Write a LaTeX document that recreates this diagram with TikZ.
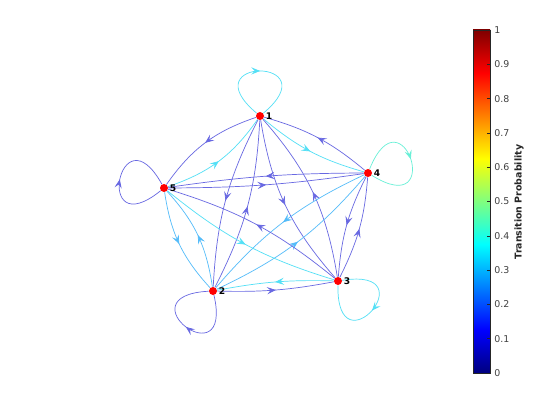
\documentclass[tikz,border=0pt]{standalone}
\usepackage{fontspec}
\setmainfont{DejaVu Sans}
\usetikzlibrary{arrows.meta,decorations.markings,backgrounds}

\definecolor{pblue}{RGB}{104,104,226}
\definecolor{pcyan}{RGB}{84,224,246}
\definecolor{plight}{RGB}{84,188,250}
\definecolor{paqua}{RGB}{104,240,215}
\definecolor{jetA}{rgb}{0,0,0.5}
\definecolor{jetB}{rgb}{0,0,1}
\definecolor{jetC}{rgb}{0,1,1}
\definecolor{jetD}{rgb}{1,1,0}
\definecolor{jetE}{rgb}{1,0,0}
\definecolor{jetF}{rgb}{0.5,0,0}

\begin{document}
\begin{tikzpicture}[
    x=0.025cm, y=0.025cm,
    state/.style={circle, fill=red, inner sep=0pt, minimum size=0.2cm},
    lbl/.style={font=\fontsize{6.5}{7}\selectfont\bfseries, inner sep=1pt},
    trans/.style={line width=0.5pt, postaction=decorate,
        decoration={markings, mark=at position 0.5 with {\arrow{Stealth[length=2.2mm, width=1.8mm, inset=0.9mm]}}}},
    ticklbl/.style={anchor=west, inner sep=0pt, text=black!75, font=\fontsize{6.7}{8}\selectfont}
]
\useasboundingbox (0,0) rectangle (560,420);

% states
\node[state, label={[lbl]right:1}] (n1) at (260,304) {};
\node[state, label={[lbl]right:2}] (n2) at (213,129) {};
\node[state, label={[lbl]right:3}] (n3) at (338,139) {};
\node[state, label={[lbl]right:4}] (n4) at (368,247) {};
\node[state, label={[lbl]right:5}] (n5) at (164,232) {};

\begin{scope}[on background layer]
\fill[white] (0,0) rectangle (560,420);
% transitions between states
\foreach \a/\b/\c/\k in {1/5/pblue/18, 5/1/pcyan/18, 1/4/pcyan/12, 4/1/pblue/12,
    4/5/pblue/4, 5/4/pblue/4, 1/2/pblue/12, 2/1/pblue/12, 1/3/pblue/16, 3/1/pblue/16,
    2/5/plight/17, 5/2/plight/17, 2/4/plight/12, 4/2/plight/12, 3/5/pblue/11,
    5/3/pcyan/11, 3/4/pblue/11, 4/3/pblue/11, 2/3/pblue/6, 3/2/pcyan/6}
    \draw[trans, \c] (n\a) to[bend right=\k] (n\b);

% self loops
\foreach \a/\ang/\c in {1/90/pcyan, 2/-127/pblue, 3/-41/pcyan, 4/18/paqua, 5/169/pblue}
    \draw[trans, \c] (n\a) .. controls +({\ang+50}:92) and +({\ang-50}:92) .. (n\a);
\end{scope}

% colorbar
\foreach \lo/\hi/\ca/\cb in {0/0.125/jetA/jetB, 0.125/0.375/jetB/jetC,
    0.375/0.625/jetC/jetD, 0.625/0.875/jetD/jetE, 0.875/1/jetE/jetF}
    \shade[bottom color=\ca, top color=\cb] (473,{47+\lo*343}) rectangle (490,{47+\hi*343});
\draw[black!85, line width=0.5pt] (473,47) rectangle (490,390);
\foreach \i/\t in {0/0, 1/0.1, 2/0.2, 3/0.3, 4/0.4, 5/0.5, 6/0.6, 7/0.7, 8/0.8, 9/0.9, 10/1} {
    \draw[black!85, line width=0.4pt] (490,{47+\i*34.3}) -- ++(-3,0);
    \node[ticklbl] (t\i) at (494,{47+\i*34.3}) {\t};
}
\node[rotate=90, font=\fontsize{6.7}{8}\selectfont\bfseries, text=black!85] (cbtitle) at (519,218) {Transition Probability};
\end{tikzpicture}
\end{document}
